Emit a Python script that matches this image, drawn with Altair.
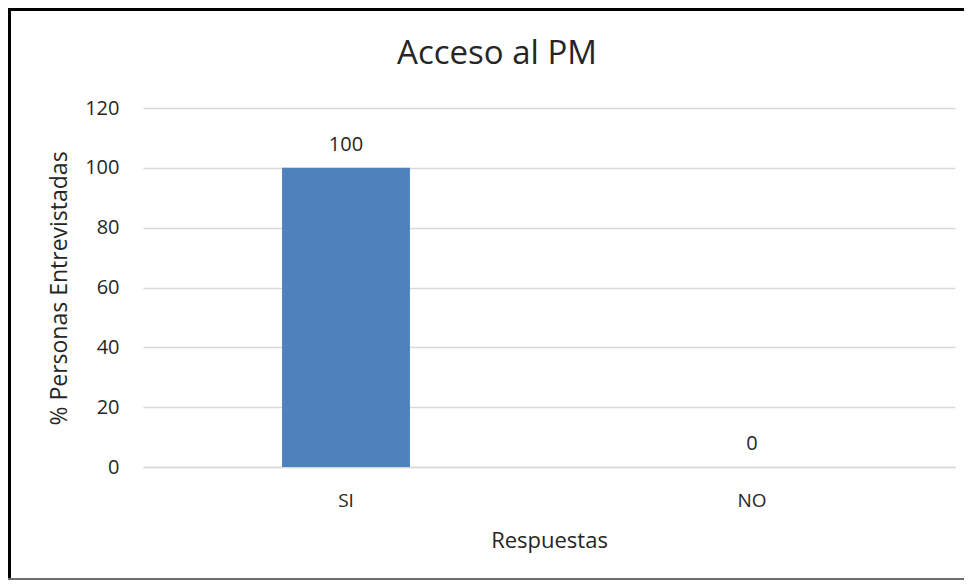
import altair as alt
import pandas as pd

categories = ["SI", "NO"]
values = [100, 0]
y_ticks = [0, 20, 40, 60, 80, 100, 120]

df = pd.DataFrame({"Respuesta": categories, "Valor": values})

FONT = "Open Sans"
TXT = "#262626"

x_enc = alt.X(
    "Respuesta:N",
    sort=categories,
    scale=alt.Scale(paddingInner=0.685, paddingOuter=0.3425),
    axis=alt.Axis(
        title="Respuestas",
        labelAngle=0,
        labelFont=FONT,
        labelFontSize=19,
        labelColor=TXT,
        labelPadding=24,
        ticks=False,
        grid=False,
        domain=True,
        domainColor="#d9d9d9",
        domainWidth=1.5,
        titleFont=FONT,
        titleFontSize=22,
        titleFontWeight="normal",
        titleColor=TXT,
        titleY=80,
        titleBaseline="alphabetic",
    ),
)
y_enc = alt.Y(
    "Valor:Q",
    scale=alt.Scale(domain=[0, 120], nice=False),
    axis=alt.Axis(
        title="% Personas Entrevistadas",
        values=y_ticks,
        labelFont=FONT,
        labelFontSize=20,
        labelColor=TXT,
        labelPadding=24,
        ticks=False,
        domain=False,
        grid=True,
        gridColor="#d9d9d9",
        gridWidth=1.5,
        titleFont=FONT,
        titleFontSize=23,
        titleFontWeight="normal",
        titleColor=TXT,
        titleX=-84,
        titleY=180,
        titleAlign="center",
        titleBaseline="middle",
        titleAngle=270,
    ),
)

bars = alt.Chart(df).mark_bar(color="#4f81bd").encode(x=x_enc, y=y_enc)
labels = alt.Chart(df).mark_text(
    font=FONT, fontSize=20, color=TXT, baseline="alphabetic", dy=-17
).encode(x=alt.X("Respuesta:N", sort=categories), y="Valor:Q", text="Valor:Q")

frame_data = alt.Data(values=[{"k": 1}])
left_border = alt.Chart(frame_data).mark_rule(color="#000000", strokeWidth=6).encode(
    x=alt.value(-135), y=alt.value(-100), y2=alt.value(472)
)
top_border = alt.Chart(frame_data).mark_rule(color="#000000", strokeWidth=6).encode(
    y=alt.value(-100), x=alt.value(-135), x2=alt.value(821)
)
bottom_border = alt.Chart(frame_data).mark_rule(color="#6e6e6e", strokeWidth=2).encode(
    y=alt.value(471), x=alt.value(-135), x2=alt.value(821)
)

chart = (
    alt.layer(bars, labels, left_border, top_border, bottom_border)
    .properties(
        width=812,
        height=359,
        view=alt.ViewBackground(stroke="transparent", strokeWidth=0),
        title=alt.TitleParams(
            "Acceso al PM",
            font=FONT,
            fontSize=33,
            fontWeight="normal",
            color=TXT,
            anchor="middle",
            dx=-52,
            dy=122,
            baseline="alphabetic",
            offset=30,
        ),
        autosize=alt.AutoSizeParams(type="none"),
        padding={"left": 135, "top": 100, "right": 9, "bottom": 113},
    )
    .configure_view(stroke="transparent", strokeWidth=0, strokeOpacity=0)
    .configure_axisX(grid=False)
    .configure_axisBand(grid=False)
    .configure(background="white")
)

chart.save("out.html", embed_options={"renderer": "svg", "actions": False})
